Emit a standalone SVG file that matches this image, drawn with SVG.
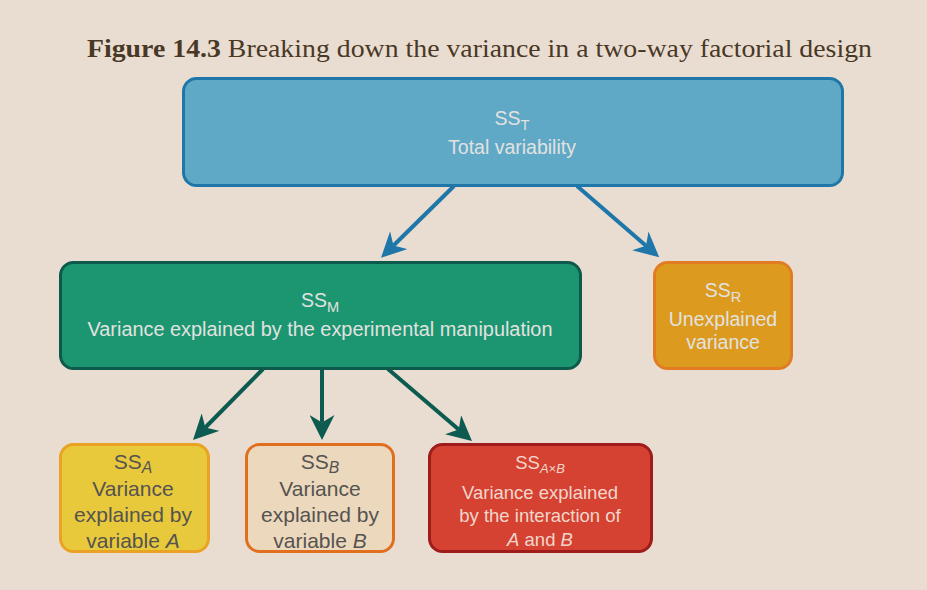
<svg xmlns="http://www.w3.org/2000/svg" width="927" height="590" viewBox="0 0 927 590">
<style>
.lbl{font-family:"Liberation Sans",Arial,sans-serif;text-anchor:middle}
.light{fill:#e2e2e0}
.dark{fill:#555350}
.sub{font-size:0.75em}
</style>
<defs>
<marker id="ab" viewBox="0 0 10 10" refX="3" refY="5" markerWidth="25" markerHeight="25" markerUnits="userSpaceOnUse" orient="auto">
<path d="M0,0 L10,5 L0,10 L3,5 z" fill="#1f76a8"/>
</marker>
<marker id="ag" viewBox="0 0 10 10" refX="3" refY="5" markerWidth="25" markerHeight="25" markerUnits="userSpaceOnUse" orient="auto">
<path d="M0,0 L10,5 L0,10 L3,5 z" fill="#0d5a50"/>
</marker>
</defs>
<rect width="927" height="590" fill="#e9ddd1"/>
<text x="87" y="57" font-family="'Liberation Serif','Times New Roman',serif" font-size="26" fill="#4a3826" textLength="785" lengthAdjust="spacingAndGlyphs"><tspan font-weight="bold">Figure 14.3</tspan> Breaking down the variance in a two-way factorial design</text>

<g id="connectors" fill="none" stroke-width="4">
<line x1="454" y1="186" x2="393.5" y2="245.5" stroke="#1f76a8" marker-end="url(#ab)"/>
<line x1="577" y1="186" x2="646" y2="245.8" stroke="#1f76a8" marker-end="url(#ab)"/>
<line x1="263" y1="369" x2="205.3" y2="427.5" stroke="#0d5a50" marker-end="url(#ag)"/>
<line x1="322" y1="369" x2="322" y2="422.5" stroke="#0d5a50" marker-end="url(#ag)"/>
<line x1="388" y1="369" x2="458.7" y2="429.6" stroke="#0d5a50" marker-end="url(#ag)"/>
</g>

<g id="ssT">
<rect x="183.5" y="78.5" width="659" height="107" rx="13" fill="#5fa8c6" stroke="#1f76a8" stroke-width="3"/>
<text class="lbl light" x="512" y="125" font-size="19.5">SS<tspan class="sub" dy="5">T</tspan></text>
<text class="lbl light" x="512" y="154" font-size="19.5">Total variability</text>
</g>

<g id="ssM">
<rect x="60.5" y="262.5" width="520" height="106" rx="13" fill="#1b9670" stroke="#0d5a4c" stroke-width="3"/>
<text class="lbl light" x="320" y="307" font-size="19.5">SS<tspan class="sub" dy="5">M</tspan></text>
<text class="lbl light" x="320" y="336" font-size="19.5" textLength="465" lengthAdjust="spacingAndGlyphs">Variance explained by the experimental manipulation</text>
</g>

<g id="ssR">
<rect x="654.5" y="262.5" width="137" height="106" rx="13" fill="#dc9a1e" stroke="#e27c22" stroke-width="3"/>
<text class="lbl light" x="723" y="297" font-size="19.5">SS<tspan class="sub" dy="5">R</tspan></text>
<text class="lbl light" x="723" y="326" font-size="19.5">Unexplained</text>
<text class="lbl light" x="723" y="349" font-size="19.5">variance</text>
</g>

<g id="ssA">
<rect x="60.5" y="444.5" width="148" height="107" rx="13" fill="#e8c93c" stroke="#e9a223" stroke-width="3"/>
<text class="lbl dark" x="133" y="469" font-size="21">SS<tspan class="sub" dy="4" font-style="italic">A</tspan></text>
<text class="lbl dark" x="133" y="496" font-size="21">Variance</text>
<text class="lbl dark" x="133" y="522" font-size="21">explained by</text>
<text class="lbl dark" x="133" y="548" font-size="21">variable <tspan font-style="italic">A</tspan></text>
</g>

<g id="ssB">
<rect x="246.5" y="444.5" width="147" height="107" rx="13" fill="#ecd8bc" stroke="#e0701f" stroke-width="3"/>
<text class="lbl dark" x="320" y="469" font-size="21">SS<tspan class="sub" dy="4" font-style="italic">B</tspan></text>
<text class="lbl dark" x="320" y="496" font-size="21">Variance</text>
<text class="lbl dark" x="320" y="522" font-size="21">explained by</text>
<text class="lbl dark" x="320" y="548" font-size="21">variable <tspan font-style="italic">B</tspan></text>
</g>

<g id="ssAxB">
<rect x="429.5" y="444.5" width="222" height="107" rx="13" fill="#d54231" stroke="#9e1c1c" stroke-width="3"/>
<text class="lbl" fill="#f2d6cc" x="540" y="469" font-size="18.5">SS<tspan font-size="13" dy="4" font-style="italic">A×B</tspan></text>
<text class="lbl" fill="#f2d6cc" x="540" y="499" font-size="18.5">Variance explained</text>
<text class="lbl" fill="#f2d6cc" x="540" y="522" font-size="18.5">by the interaction of</text>
<text class="lbl" fill="#f2d6cc" x="540" y="546" font-size="18.5"><tspan font-style="italic">A</tspan> and <tspan font-style="italic">B</tspan></text>
</g>
</svg>
